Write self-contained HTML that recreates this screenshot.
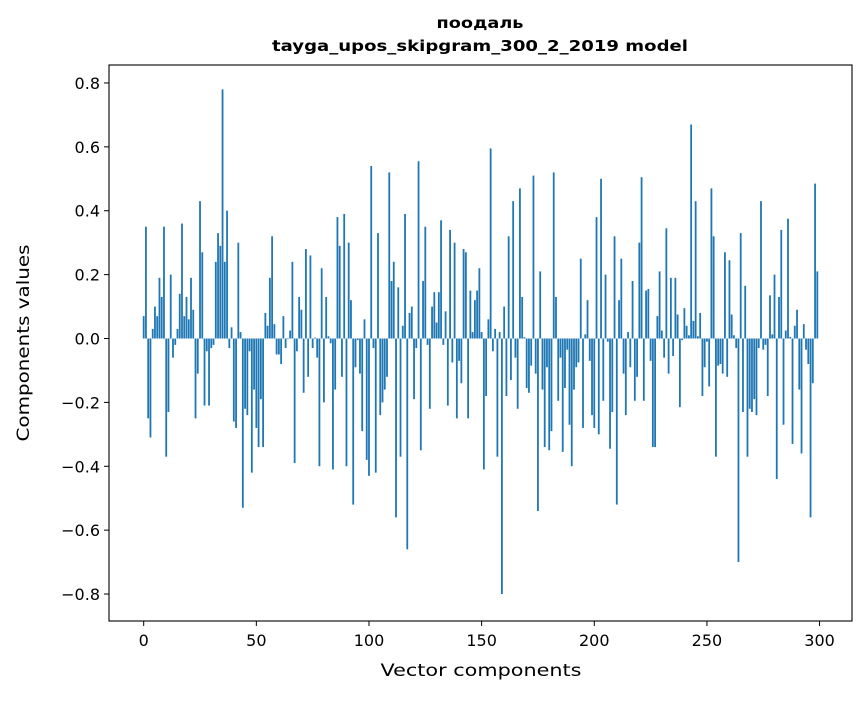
<!DOCTYPE html>
<html><head><meta charset="utf-8"><style>
body{margin:0;background:#fff;}
svg{font-family:"DejaVu Sans","Liberation Sans",sans-serif;}
</style></head><body>
<svg id="chart" width="867" height="696" viewBox="0 0 867 696" xmlns="http://www.w3.org/2000/svg">
<rect width="867" height="696" fill="#fff"/>
<text x="480" y="28" text-anchor="middle" font-size="15" font-weight="bold" textLength="87" lengthAdjust="spacingAndGlyphs">поодаль</text>
<text x="480" y="51" text-anchor="middle" font-size="15" font-weight="bold" textLength="416" lengthAdjust="spacingAndGlyphs">tayga_upos_skipgram_300_2_2019 model</text>
<g id="bars"></g>
<g id="axes"></g>
<text x="481" y="676" text-anchor="middle" font-size="17" textLength="201" lengthAdjust="spacingAndGlyphs">Vector components</text>
<text transform="translate(29,343) rotate(-90)" text-anchor="middle" font-size="17" textLength="197" lengthAdjust="spacingAndGlyphs">Components values</text>
</svg>
<script>
const values = [0.07,0.35,-0.25,-0.31,0.03,0.10,0.07,0.19,0.13,0.35,
-0.37,-0.23,0.20,-0.06,-0.02,0.03,0.14,0.36,0.07,0.13,
0.06,0.19,0.09,-0.25,-0.11,0.43,0.27,-0.21,-0.04,-0.21,
-0.03,-0.02,0.24,0.33,0.29,0.78,0.24,0.40,-0.03,0.035,
-0.26,-0.28,0.30,0.02,-0.53,-0.22,-0.24,-0.04,-0.42,-0.16,
-0.28,-0.34,-0.19,-0.34,0.08,0.04,0.19,0.32,0.045,-0.05,
-0.05,-0.08,0.07,-0.03,-0.002,0.025,0.24,-0.39,-0.04,0.13,
0.09,-0.17,0.28,-0.12,0.26,-0.03,0.003,-0.06,-0.40,0.22,
-0.20,0.13,0.007,-0.015,-0.41,-0.16,0.38,0.29,-0.12,0.39,
-0.40,0.30,0.12,-0.52,-0.09,-0.005,-0.11,-0.29,0.06,-0.38,
-0.43,0.54,-0.03,-0.42,0.33,-0.24,-0.20,-0.16,-0.12,0.52,
0.18,0.24,-0.56,0.16,-0.37,0.04,0.39,-0.66,0.08,0.10,
-0.19,-0.03,0.555,-0.35,0.18,0.35,-0.02,-0.22,0.10,0.145,
0.05,0.145,0.37,-0.02,0.085,-0.21,0.34,-0.075,0.30,-0.25,
-0.07,-0.14,0.28,0.27,-0.25,0.15,0.02,0.12,0.15,0.22,
0.02,-0.41,-0.18,0.06,0.595,-0.04,0.03,-0.37,0.02,-0.80,
0.10,-0.18,0.32,-0.13,0.43,-0.06,-0.22,0.47,0.13,0.004,
-0.155,-0.17,-0.085,0.51,-0.11,-0.54,0.21,-0.16,-0.34,-0.09,
-0.35,-0.29,0.52,0.13,-0.195,-0.06,-0.355,-0.155,-0.035,-0.27,
-0.40,-0.16,-0.09,-0.075,0.25,-0.28,0.013,0.12,-0.07,-0.24,
-0.28,0.38,-0.30,0.50,-0.195,0.20,-0.01,-0.345,-0.23,0.32,
-0.52,0.12,0.25,-0.11,-0.24,0.02,-0.09,0.18,-0.195,-0.12,
0.30,0.505,-0.195,0.15,0.155,-0.07,-0.34,-0.34,0.07,0.21,
0.025,-0.06,0.345,-0.11,0.19,-0.055,0.19,0.075,-0.215,-0.005,
0.095,0.04,0.01,0.67,0.055,0.43,0.007,0.08,-0.18,-0.09,
-0.01,-0.15,0.47,0.32,-0.37,-0.085,-0.08,-0.11,0.27,-0.12,
0.245,0.075,0.01,-0.03,-0.70,0.33,-0.23,0.165,-0.37,-0.22,
-0.23,-0.19,-0.24,-0.03,0.43,-0.035,-0.02,-0.18,0.135,0.013,
0.20,-0.44,0.13,0.34,-0.27,0.025,0.375,0.005,-0.33,0.04,
0.09,-0.16,-0.36,0.045,-0.035,-0.08,-0.56,-0.14,0.485,0.21];
const xTicks = [0,50,100,150,200,250,300];
const yTicks = [-0.8,-0.6,-0.4,-0.2,0.0,0.2,0.4,0.6,0.8];
const yTickLabels = ["\u22120.8","\u22120.6","\u22120.4","\u22120.2","0.0","0.2","0.4","0.6","0.8"];

const NS="http://www.w3.org/2000/svg";
const L=109,R=852,T=65,B=621;
const xMin=-15.4,xMax=314.4;
const x=v=>L+(v-xMin)/(xMax-xMin)*(R-L);
const y0=338.5,yScale=319.4;
const y=v=>y0-v*yScale;
const bars=document.getElementById('bars');
values.forEach((v,i)=>{
  const r=document.createElementNS(NS,'rect');
  const x1=x(i-0.4),x2=x(i+0.4);
  r.setAttribute('x',x1);
  r.setAttribute('width',x2-x1);
  r.setAttribute('y',Math.min(y(v),y(0)));
  r.setAttribute('height',Math.abs(y(v)-y(0)));
  r.setAttribute('fill','#1f77b4');
  
  
  bars.appendChild(r);
});
const axes=document.getElementById('axes');
const frame=document.createElementNS(NS,'rect');
frame.setAttribute('x',L);frame.setAttribute('y',T);
frame.setAttribute('width',R-L);frame.setAttribute('height',B-T);
frame.setAttribute('fill','none');frame.setAttribute('stroke','#000');frame.setAttribute('stroke-width','1.1');


axes.appendChild(frame);
xTicks.forEach(t=>{
  const l=document.createElementNS(NS,'line');
  l.setAttribute('x1',x(t));l.setAttribute('x2',x(t));l.setAttribute('y1',B);l.setAttribute('y2',B+5);
  l.setAttribute('stroke','#000');
  
  
  axes.appendChild(l);
  const tx=document.createElementNS(NS,'text');
  tx.setAttribute('x',x(t));tx.setAttribute('y',B+25);tx.setAttribute('text-anchor','middle');tx.setAttribute('font-size','16');
  tx.textContent=t;
  
  
  axes.appendChild(tx);
});
yTicks.forEach((t,i)=>{
  const l=document.createElementNS(NS,'line');
  l.setAttribute('x1',L-5);l.setAttribute('x2',L);l.setAttribute('y1',y(t));l.setAttribute('y2',y(t));
  l.setAttribute('stroke','#000');
  
  
  axes.appendChild(l);
  const tx=document.createElementNS(NS,'text');
  tx.setAttribute('x',L-9);tx.setAttribute('y',y(t)+6);tx.setAttribute('text-anchor','end');tx.setAttribute('font-size','16');
  tx.textContent=yTickLabels[i];
  
  
  axes.appendChild(tx);
});
</script>
</body></html>
